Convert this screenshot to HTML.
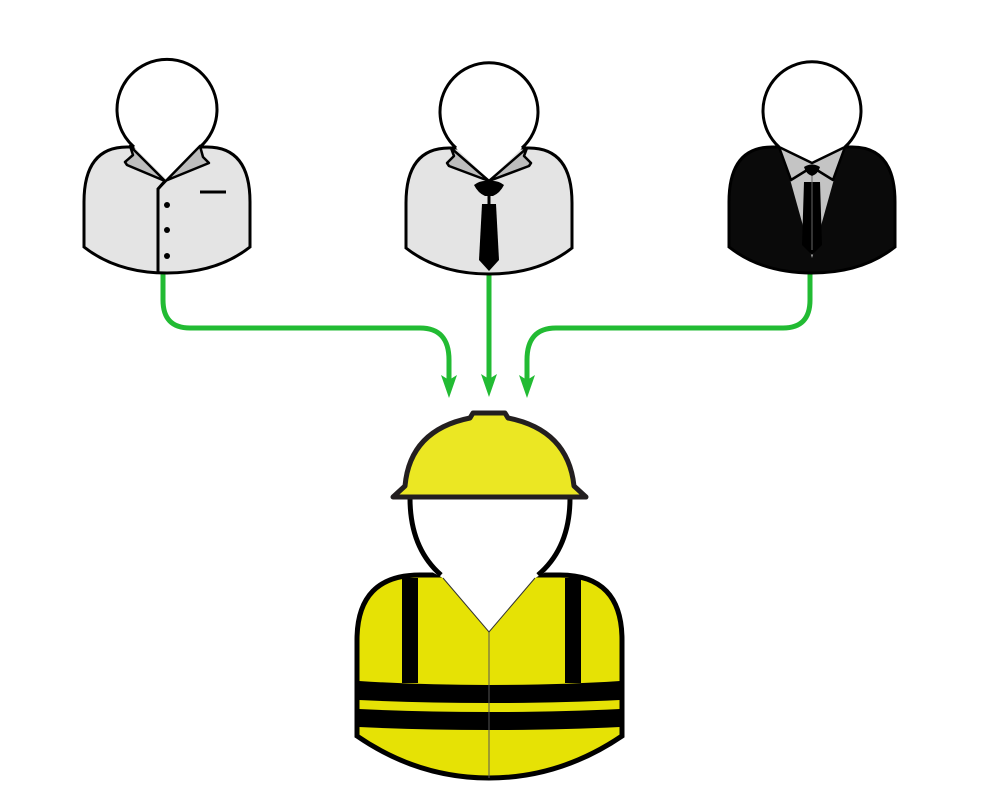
<!DOCTYPE html>
<html><head><style>html,body{margin:0;padding:0;background:#fff}svg{display:block}</style></head>
<body>
<svg width="1000" height="800" viewBox="0 0 1000 800" xmlns="http://www.w3.org/2000/svg">
<defs>
<g id="body">
  <path d="M-83,140 L-83,95 Q-83,40 -40,40 L40,40 Q83,40 83,95 L83,140 Q50,166 0,166 Q-50,166 -83,140 Z" stroke="#000" stroke-width="3"/>
</g>
</defs>
<!-- connectors -->
<g fill="none" stroke="#22bb33" stroke-width="5">
  <path d="M163,273 L163,300 Q163,328 190,328 L420,328 Q449,328 449,360 L449,385"/>
  <path d="M489,273 L489,385"/>
  <path d="M810,273 L810,300 Q810,328 783,328 L556,328 Q527,328 527,360 L527,385"/>
</g>
<g fill="#22bb33">
  <path d="M441,375 L449,398 L457,375 L449,380 Z"/>
  <path d="M481,374 L489,397 L497,374 L489,379 Z"/>
  <path d="M519,375 L527,398 L535,375 L527,380 Z"/>
</g>

<!-- person 1 -->
<g transform="translate(167,107)"><use href="#body" fill="#e4e4e4"/></g>
<path d="M134,147 A50,50 0 1 1 200,147 L167,180 Z" fill="#fff" stroke="none"/>
<path d="M134,147 A50,50 0 1 1 200,147" fill="none" stroke="#000" stroke-width="3"/>
<path d="M130,146 L133,155 L125,162 L127,165 L165,181 Z" fill="#bdbdbd" stroke="#000" stroke-width="2.5" stroke-linejoin="round"/>
<path d="M200,146 L203,157 L209,163 L165,181 L158,189 Z" fill="#bdbdbd" stroke="#000" stroke-width="2.5" stroke-linejoin="round"/>
<path d="M165,181 L158,189 L158,273" fill="none" stroke="#000" stroke-width="3"/>
<circle cx="167" cy="205" r="3"/><circle cx="167" cy="230" r="3"/><circle cx="167" cy="256" r="3"/>
<path d="M200,192 L226,192" stroke="#000" stroke-width="3"/>

<!-- person 2 -->
<g transform="translate(489,108)"><use href="#body" fill="#e4e4e4"/></g>
<path d="M456,148 A49,49 0 1 1 522,148 L489,180 Z" fill="#fff"/>
<path d="M456,148 A49,49 0 1 1 522,148" fill="none" stroke="#000" stroke-width="3"/>
<path d="M451,148 L454,156 L447,163 L449,166 L489,181 Z" fill="#bdbdbd" stroke="#000" stroke-width="2.5" stroke-linejoin="round"/>
<path d="M527,148 L524,156 L531,163 L529,166 L489,181 Z" fill="#bdbdbd" stroke="#000" stroke-width="2.5" stroke-linejoin="round"/>
<path d="M474,185 Q480,180 489,181 Q498,180 504,185 Q500,193 493,196 L485,196 Q478,193 474,185 Z"/>
<path d="M482,204 L496,204 L499,260 L489,271 L479,260 Z"/>
<path d="M489,196 L489,204" stroke="#000" stroke-width="3"/>

<!-- person 3 -->
<g transform="translate(812,107)"><use href="#body" fill="#0a0a0a"/></g>
<path d="M781,147 L843,147 L812,258 Z" fill="#c4c4c4"/>
<path d="M779,147 A49,49 0 1 1 845,147 L812,163 Z" fill="#fff"/>
<path d="M779,147 A49,49 0 1 1 845,147" fill="none" stroke="#000" stroke-width="3"/>
<path d="M779,147 L812,163 L845,147 L833,180 L812,167 L791,180 Z" fill="#c4c4c4" stroke="#000" stroke-width="2.5" stroke-linejoin="round"/>
<path d="M804,167 Q812,162 820,167 Q818,174 812,176 Q806,174 804,167 Z"/>
<path d="M804,182 L820,182 L822,245 L812,255 L802,245 Z"/>
<path d="M812,176 L812,250" stroke="#666" stroke-width="1"/>

<!-- worker -->
<path d="M357,640 Q357,575 420,575 L560,575 Q622,575 622,640 L622,736 Q560,778 489,778 Q418,778 357,736 Z" fill="#e6e205" stroke="#000" stroke-width="5"/>
<path d="M402,578 L418,578 L418,683 L402,683 Z"/>
<path d="M565,578 L581,578 L581,683 L565,683 Z"/>
<path d="M359,681 Q420,685 489,685 Q560,685 620,681 L620,700 Q560,703 489,703 Q420,703 359,700 Z"/>
<path d="M359,709 Q420,712 489,712 Q560,712 620,709 L620,727 Q560,730 489,730 Q420,730 359,727 Z"/>
<path d="M489,632 L489,778" stroke="#555" stroke-width="1"/>
<path d="M432,572 L443,578 L489,632 L535,578 L546,572 Q570,545 570,498 L410,498 Q410,545 432,572 Z" fill="#fff"/>
<path d="M441,575 Q410,548 410,498 M538,575 Q570,548 570,498" fill="none" stroke="#000" stroke-width="5"/>
<path d="M443,578 L489,632 L535,578" fill="none" stroke="#333" stroke-width="1"/>
<path d="M393,497 L405,486 Q410,430 470,418 L473,413 L505,413 L508,418 Q568,430 574,486 L586,497 Z" fill="#ebe723" stroke="#231f20" stroke-width="5" stroke-linejoin="round"/>
</svg>
</body></html>
